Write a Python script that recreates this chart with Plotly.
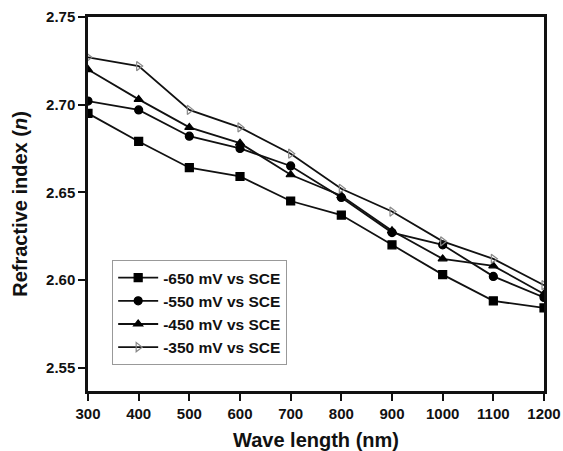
import plotly.graph_objects as go

wavelength = [300, 400, 500, 600, 700, 800, 900, 1000, 1100, 1200]
n_650 = [2.695, 2.679, 2.664, 2.659, 2.645, 2.637, 2.620, 2.603, 2.588, 2.584]
n_550 = [2.702, 2.697, 2.682, 2.675, 2.665, 2.647, 2.627, 2.620, 2.602, 2.590]
n_450 = [2.720, 2.703, 2.687, 2.678, 2.660, 2.648, 2.628, 2.612, 2.608, 2.592]
n_350 = [2.727, 2.722, 2.697, 2.687, 2.672, 2.652, 2.639, 2.622, 2.612, 2.597]

series = [
    ("-650 mV vs SCE", n_650, "square", "black"),
    ("-550 mV vs SCE", n_550, "circle", "black"),
    ("-450 mV vs SCE", n_450, "triangle-up", "black"),
    ("-350 mV vs SCE", n_350, "triangle-right-open", "#888888"),
]

fig = go.Figure()
for name, vals, sym, mcol in series:
    fig.add_trace(go.Scatter(
        x=wavelength, y=vals, mode="lines+markers", name=name,
        line=dict(color="#111111", width=1.8),
        marker=dict(symbol=sym, size=8, color=mcol,
                    line=dict(color=mcol, width=1.2)),
        cliponaxis=True,
    ))

font_family = "Liberation Sans, Arial, sans-serif"
fig.update_layout(
    width=563, height=451,
    margin=dict(l=88, r=19, t=17, b=60),
    paper_bgcolor="white", plot_bgcolor="white",
    font=dict(family=font_family, color="#111111"),
    showlegend=True,
    legend=dict(
        x=0.053, y=0.35, xanchor="left", yanchor="top",
        bordercolor="#999999", borderwidth=1, bgcolor="white",
        font=dict(family=font_family, size=15.5, color="#111111", weight="bold"),
        tracegroupgap=0, itemwidth=40,
    ),
    xaxis=dict(
        range=[300, 1200], tickvals=wavelength,
        showgrid=False, zeroline=False, automargin=False,
        showline=True, linecolor="#111111", linewidth=2.5, mirror=True,
        ticks="outside", ticklen=7, tickwidth=2, tickcolor="#111111",
        tickfont=dict(size=15, family=font_family, weight="bold"),
        title=dict(text="<b>Wave length (nm)</b>", font=dict(size=20, family=font_family), standoff=14),
    ),
    yaxis=dict(
        range=[2.5366, 2.75], tickvals=[2.55, 2.60, 2.65, 2.70, 2.75],
        tickformat=".2f",
        showgrid=False, zeroline=False, automargin=False,
        showline=True, linecolor="#111111", linewidth=2.5, mirror=True,
        ticks="outside", ticklen=7, tickwidth=2, tickcolor="#111111",
        tickfont=dict(size=15, family=font_family, weight="bold"),
        title=dict(text="<b>Refractive index (<i>n</i>)</b>", font=dict(size=20, family=font_family), standoff=14),
    ),
)

fig.write_html(
    "out.html",
    config={"displayModeBar": False},
    post_script="document.body.style.margin='0';document.body.style.overflow='hidden';",
)
